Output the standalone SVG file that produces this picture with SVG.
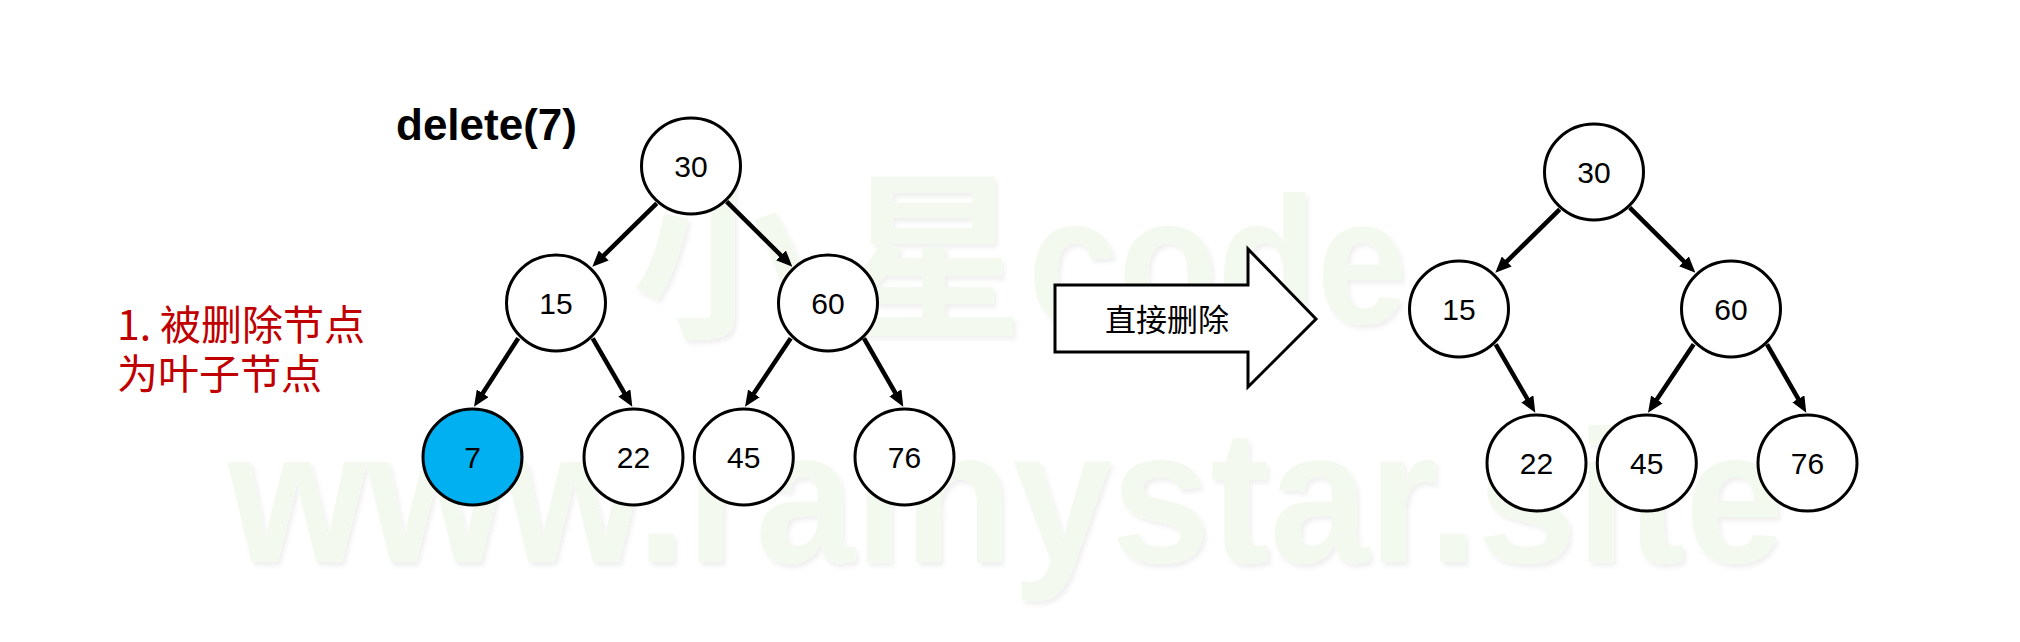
<svg xmlns="http://www.w3.org/2000/svg" width="2020" height="642" viewBox="0 0 2020 642">
<style>
.wm{fill:#f3f9ee;font-weight:700}
.node ellipse{fill:#fff;stroke:#000;stroke-width:3}
.node text{font-family:"Liberation Sans",Arial,sans-serif;font-size:30px;fill:#000;text-anchor:middle}
.edge{stroke:#000;stroke-width:4.5;fill:none;marker-end:url(#ah)}
.cjk{font-family:"Noto Sans CJK SC","Noto Sans",sans-serif}
</style>
<defs>
<marker id="ah" markerUnits="userSpaceOnUse" markerWidth="16" markerHeight="14" refX="2" refY="7" orient="auto">
<path d="M0,0 L16,7 L0,14 z" fill="#000"/>
</marker>
<filter id="sh" x="-5%" y="-5%" width="110%" height="120%">
<feDropShadow dx="3" dy="4" stdDeviation="2" flood-color="#000" flood-opacity="0.06"/>
</filter>
</defs>
<rect width="2020" height="642" fill="#fff"/>
<g id="watermark" filter="url(#sh)">
<text class="wm cjk" y="323" font-size="180"><tspan x="632">小</tspan><tspan x="843">星</tspan></text>
<text class="wm" x="1028" y="323" font-family="Liberation Sans,Arial,sans-serif" font-size="180" textLength="379" lengthAdjust="spacingAndGlyphs">code</text>
<text class="wm" x="228" y="562" font-family="Liberation Sans,Arial,sans-serif" font-size="190" textLength="1556" lengthAdjust="spacingAndGlyphs">www.rainystar.site</text>
</g>
<g id="title">
<text x="396" y="140" font-family="Liberation Sans,Arial,sans-serif" font-size="44" font-weight="700" fill="#000">delete(7)</text>
</g>
<g id="note">
<text class="cjk" y="340" font-size="41" fill="#c00000"><tspan x="117">1.</tspan><tspan x="160">被删除节点</tspan></text>
<text class="cjk" x="117" y="389" font-size="41" fill="#c00000">为叶子节点</text>
</g>
<g id="connectors">
<line class="edge" x1="656.7" y1="203.3" x2="602.3" y2="256.9"/>
<line class="edge" x1="726.7" y1="201.7" x2="782.4" y2="256.8"/>
<line class="edge" x1="518.3" y1="338.3" x2="481.6" y2="395.0"/>
<line class="edge" x1="592.7" y1="338.3" x2="625.3" y2="394.6"/>
<line class="edge" x1="790.7" y1="338.3" x2="752.8" y2="395.1"/>
<line class="edge" x1="864" y1="338.3" x2="896.3" y2="394.6"/>
<line class="edge" x1="1559.7" y1="209.3" x2="1505.3" y2="262.9"/>
<line class="edge" x1="1629.7" y1="207.7" x2="1685.4" y2="262.8"/>
<line class="edge" x1="1495.7" y1="344.3" x2="1528.3" y2="400.6"/>
<line class="edge" x1="1693.7" y1="344.3" x2="1655.8" y2="401.1"/>
<line class="edge" x1="1767" y1="344.3" x2="1799.3" y2="400.6"/>
</g>
<g id="big-arrow">
<polygon points="1055,285 1248,285 1248,249 1316,319 1248,387 1248,352 1055,352" fill="#fff" stroke="#000" stroke-width="3"/>
<text class="cjk" x="1167" y="331" font-size="31" text-anchor="middle" fill="#000">直接删除</text>
</g>
<g id="L30" class="node"><ellipse cx="691" cy="166" rx="49.5" ry="48"/><text x="691" y="177">30</text></g>
<g id="L15" class="node"><ellipse cx="556" cy="303" rx="49.5" ry="48"/><text x="556" y="314">15</text></g>
<g id="L60" class="node"><ellipse cx="828" cy="303" rx="49.5" ry="48"/><text x="828" y="314">60</text></g>
<g id="L7" class="node"><ellipse cx="472.5" cy="457" rx="49.5" ry="48" style="fill:#00b0f0"/><text x="472.5" y="468">7</text></g>
<g id="L22" class="node"><ellipse cx="633.5" cy="457" rx="49.5" ry="48"/><text x="633.5" y="468">22</text></g>
<g id="L45" class="node"><ellipse cx="743.8" cy="457" rx="49.5" ry="48"/><text x="743.8" y="468">45</text></g>
<g id="L76" class="node"><ellipse cx="904.5" cy="457" rx="49.5" ry="48"/><text x="904.5" y="468">76</text></g>
<g id="R30" class="node"><ellipse cx="1594" cy="172" rx="49.5" ry="48"/><text x="1594" y="183">30</text></g>
<g id="R15" class="node"><ellipse cx="1459" cy="309" rx="49.5" ry="48"/><text x="1459" y="320">15</text></g>
<g id="R60" class="node"><ellipse cx="1731" cy="309" rx="49.5" ry="48"/><text x="1731" y="320">60</text></g>
<g id="R22" class="node"><ellipse cx="1536.5" cy="463" rx="49.5" ry="48"/><text x="1536.5" y="474">22</text></g>
<g id="R45" class="node"><ellipse cx="1646.8" cy="463" rx="49.5" ry="48"/><text x="1646.8" y="474">45</text></g>
<g id="R76" class="node"><ellipse cx="1807.5" cy="463" rx="49.5" ry="48"/><text x="1807.5" y="474">76</text></g>
</svg>
